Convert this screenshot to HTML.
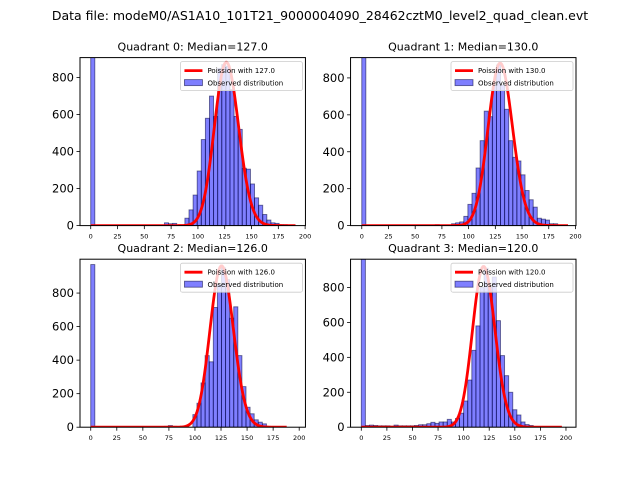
<!DOCTYPE html>
<html><head><meta charset="utf-8"><style>
html,body{margin:0;padding:0;background:#fff;}
svg{display:block;font-family:"DejaVu Sans","Liberation Sans",sans-serif;}
</style></head><body>
<svg id="fig" width="640" height="480" viewBox="0 0 640 480">
<text x="320" y="20" text-anchor="middle" font-size="12.5">Data file: modeM0/AS1A10_101T21_9000004090_28462cztM0_level2_quad_clean.evt</text>
</svg>
<script>
const quadrants = [0,1,2,3];
const medians = [127.0,130.0,126.0,120.0];
const binWidths = [3.82,3.82,3.92,4.0];
const counts0 = [1500,0,0,0,0,0,0,0,0,0,0,0,0,0,0,0,0,3,15,10,12,0,0,40,85,165,295,465,580,700,590,850,870,860,735,590,520,310,305,225,150,110,60,30,15,12,5,5,3,0];
const counts1 = [1500,0,0,0,0,0,0,0,0,0,0,0,0,0,0,3,0,0,5,0,3,0,10,15,20,50,115,175,312,460,620,590,760,870,760,630,460,370,350,275,190,140,100,40,35,30,10,10,0,0];
const counts2 = [970,0,0,0,0,0,0,0,0,0,0,0,0,0,0,0,0,0,5,10,5,0,5,8,0,75,143,264,427,390,714,850,950,880,650,718,427,242,119,80,44,30,20,5,0,0,0,0,0,0];
const counts3 = [1500,10,12,10,8,8,8,6,12,8,8,8,8,10,14,14,20,28,22,30,30,45,30,50,80,150,270,440,580,800,910,800,860,610,410,295,200,100,70,30,15,10,0,0,0,0,0,0,0,0];
const allCounts = [counts0,counts1,counts2,counts3];
const curveScale = [883,880,962,920];
const curveMax = [191,193,188,196];
const xMax = [200.3,200.5,206,209.8];
const xMin = [-10,-10.5,-10.3,-10.5];
const yMax = [908,910,1002,962];
const yTicks = [0,200,400,600,800];
const xTicks = [0,25,50,75,100,125,150,175,200];

const NS='http://www.w3.org/2000/svg';
const svg=document.getElementById('fig');
function mk(tag,attrs,parent){const e=document.createElementNS(NS,tag);for(const k in attrs)e.setAttribute(k,attrs[k]);(parent||svg).appendChild(e);return e;}
function lgamma(x){
  if(x<7){let r=0;while(x<7){r-=Math.log(x);x+=1;}return r+lgamma(x);}
  return (x-0.5)*Math.log(x)-x+0.5*Math.log(2*Math.PI)+1/(12*x)-1/(360*x*x*x);
}
function pois(k,l){return Math.exp(k*Math.log(l)-l-lgamma(k+1));}

const axW=225.45, axH=168;
const axLeft=[80,350.55,80,350.55];
const axTop=[57.6,57.6,259.2,259.2];

quadrants.forEach(q=>{
  const L=axLeft[q],T=axTop[q];
  const xs=v=>L+(v-xMin[q])/(xMax[q]-xMin[q])*axW;
  const ys=v=>T+axH-v/yMax[q]*axH;
  const g=mk('g',{});
  
  
  const t=mk('text',{x:L+axW/2,y:T-7,'text-anchor':'middle','font-size':'11'},g);
  t.textContent='Quadrant '+q+': Median='+medians[q].toFixed(1);
  
  
  const clip=mk('clipPath',{id:'c'+q},g);
  mk('rect',{x:L,y:T,width:axW,height:axH},clip);
  const pg=mk('g',{'clip-path':'url(#c'+q+')'},g);
  const cs=allCounts[q],bw=binWidths[q];
  cs.forEach((c,i)=>{
    if(c<=0)return;
    const x0=xs(i*bw),x1=xs((i+1)*bw);
    const r=mk('rect',{x:x0,y:ys(c),width:x1-x0,height:ys(0)-ys(c),fill:'rgba(0,0,255,0.5)',stroke:'rgba(0,0,60,0.55)','stroke-width':'0.9'},pg);
    
    
  });
  const lam=medians[q],peak=pois(Math.round(lam),lam);
  let d='';
  for(let k=0;k<=curveMax[q];k++){d+=(k?'L':'M')+xs(k).toFixed(2)+','+ys(pois(k,lam)/peak*curveScale[q]).toFixed(2);}
  const p=mk('path',{d:d,fill:'none',stroke:'#ff0000','stroke-width':'2.8','stroke-linejoin':'round'},pg);
  
  
  mk('rect',{x:L,y:T,width:axW,height:axH,fill:'none',stroke:'#000','stroke-width':'1'},g);
  xTicks.forEach(v=>{
    const x=xs(v); if(x<L-0.5||x>L+axW+0.5)return;
    mk('line',{x1:x,y1:T+axH,x2:x,y2:T+axH+3.5,stroke:'#000','stroke-width':'0.8'},g);
    const tx=mk('text',{x:x,y:T+axH+13,'text-anchor':'middle','font-size':'6.5'},g);
    tx.textContent=v;
    
    
  });
  yTicks.forEach(v=>{
    const y=ys(v);
    mk('line',{x1:L-3.5,y1:y,x2:L,y2:y,stroke:'#000','stroke-width':'0.8'},g);
    const ty=mk('text',{x:L-6,y:y+4,'text-anchor':'end','font-size':'11.5'},g);
    ty.textContent=v;
    
    
  });
  const lg=mk('g',{},g);
  
  
  const lx=L+axW-125,ly=T+4;
  mk('rect',{x:lx,y:ly,width:122,height:29,fill:'rgba(255,255,255,0.8)',stroke:'#ccc','stroke-width':'0.8',rx:'2'},lg);
  mk('line',{x1:lx+4,y1:ly+9,x2:lx+22,y2:ly+9,stroke:'#f00','stroke-width':'2.8'},lg);
  const l1=mk('text',{x:lx+27,y:ly+11.5,'font-size':'7'},lg);
  l1.textContent='Poission with '+medians[q].toFixed(1);
  
  
  mk('rect',{x:lx+4,y:ly+18,width:18,height:6,fill:'rgba(0,0,255,0.5)',stroke:'rgba(0,0,60,0.55)','stroke-width':'0.9'},lg);
  const l2=mk('text',{x:lx+27,y:ly+24,'font-size':'7'},lg);
  l2.textContent='Observed distribution';
  
  
});
</script>
</body></html>
